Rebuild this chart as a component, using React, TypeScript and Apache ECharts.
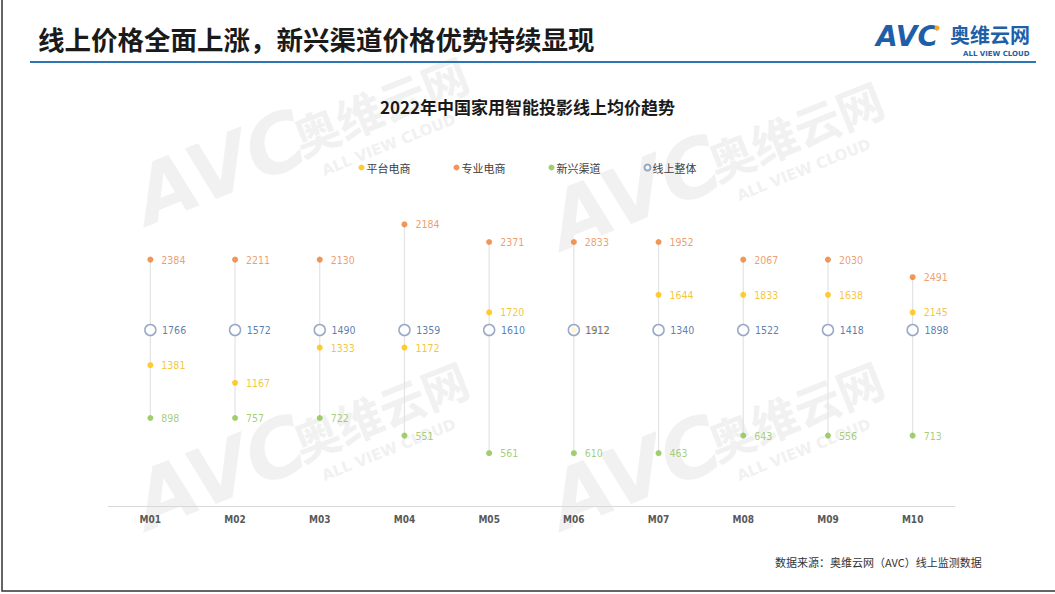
import React, { useEffect, useRef } from "react";
import * as echarts from "echarts";

const months = ["M01", "M02", "M03", "M04", "M05", "M06", "M07", "M08", "M09", "M10"];
const platform = [1381, 1167, 1333, 1172, 1720, 1912, 1644, 1833, 1638, 2145];
const professional = [2384, 2211, 2130, 2184, 2371, 2833, 1952, 2067, 2030, 2491];
const emerging = [898, 757, 722, 551, 561, 610, 463, 643, 556, 713];
const overall = [1766, 1572, 1490, 1359, 1610, 1912, 1340, 1522, 1418, 1898];

const seriesNames = ["平台电商", "专业电商", "新兴渠道", "线上整体"];

// vertical position = price relative to the overall online price, in steps of 0.1 (halves round up)
const rel = (v: number, i: number) => Math.round((v / overall[i]) * 10 + 0.001) / 10;
const toData = (arr: number[]) => arr.map((v, i) => [i, rel(v, i), v]);

function watermark(x: number, y: number) {
  const c = "#f1f1f1";
  return {
    type: "group",
    x,
    y,
    rotation: 0.38,
    silent: true,
    z: -10,
    children: [
      { type: "text", x: 0, y: -72, style: { text: "AVC", fill: c, font: "italic bold 80px 'DejaVu Sans'" } },
      { type: "text", x: 168, y: -54, style: { text: "奥维云网", fill: c, font: "bold 46px 'Noto Sans CJK SC'" } },
      { type: "text", x: 182, y: 2, style: { text: "ALL VIEW CLOUD", fill: c, font: "bold 15px 'DejaVu Sans'" } },
    ],
  };
}

export default function App() {
  const ref = useRef<HTMLDivElement>(null);
  useEffect(() => {
    if (!ref.current) return;
    const chart = echarts.init(ref.current, null, { renderer: "svg" });
    const labelFont = { fontSize: 10.5, fontFamily: "'Liberation Sans Narrow', 'DejaVu Sans Condensed', sans-serif" };
    const mk = (name: string, arr: number[], color: string, labelColor: string) => ({
      name,
      type: "scatter",
      data: toData(arr),
      symbol: "circle",
      symbolSize: 6,
      itemStyle: { color },
      z: 3,
      label: {
        show: true,
        position: "right",
        distance: 8,
        color: labelColor,
        ...labelFont,
        formatter: (p: any) => String(p.value[2]),
      },
    });
    const rangeData = months.map((_, i) => {
      const vals = [rel(platform[i], i), rel(professional[i], i), rel(emerging[i], i), 1];
      return [i, Math.max(...vals), Math.min(...vals)];
    });
    chart.setOption({
      animation: false,
      backgroundColor: "#ffffff",
      title: {
        text: "2022年中国家用智能投影线上均价趋势",
        left: "center",
        top: 93,
        textStyle: { fontSize: 17, fontWeight: "bold", color: "#1a1a1a", fontFamily: "'Noto Sans CJK SC'" },
      },
      legend: {
        top: 157,
        left: "center",
        itemWidth: 6,
        itemHeight: 6,
        itemGap: 43,
        data: seriesNames.map((n) => ({ name: n, icon: "circle" })),
        textStyle: { fontSize: 11, color: "#404040", fontFamily: "'Noto Sans CJK SC'", padding: [0, 0, 0, -3] },
      },
      grid: { left: 108, right: 100, top: 154, bottom: 88 },
      xAxis: {
        type: "category",
        data: months,
        boundaryGap: true,
        axisLine: { lineStyle: { color: "#d9d9d9" } },
        axisTick: { show: false },
        axisLabel: { color: "#595959", fontSize: 10, fontWeight: "bold", margin: 8, fontFamily: "'Liberation Sans Narrow', 'DejaVu Sans Condensed', sans-serif" },
      },
      yAxis: { type: "value", min: 0, max: 2, show: false, splitLine: { show: false } },
      graphic: [
        watermark(150, 230),
        watermark(565, 255),
        watermark(150, 535),
        watermark(565, 535),
        {
          type: "text",
          x: 38,
          y: 25,
          style: { text: "线上价格全面上涨，新兴渠道价格优势持续显现", fill: "#1a1a1a", font: "bold 26.5px 'Noto Sans CJK SC'" },
        },
        { type: "line", shape: { x1: 30, y1: 62, x2: 1036, y2: 62 }, style: { stroke: "#2E75B6", lineWidth: 2 } },
        { type: "text", x: 876, y: 22, style: { text: "AVC", fill: "#1F5FA8", font: "italic bold 28px 'DejaVu Sans'" } },
        { type: "circle", shape: { cx: 937, cy: 28, r: 2.5 }, style: { fill: "#F5A623" } },
        { type: "text", x: 950, y: 24, style: { text: "奥维云网", fill: "#1F5FA8", font: "bold 20px 'Noto Sans CJK SC'" } },
        { type: "text", x: 963, y: 50, style: { text: "ALL VIEW CLOUD", fill: "#1F5FA8", font: "bold 7px 'DejaVu Sans'" } },
        {
          type: "text",
          x: 775,
          y: 556,
          style: { text: "数据来源：奥维云网（AVC）线上监测数据", fill: "#333333", font: "11px 'Noto Sans CJK SC'" },
        },
        {
          type: "rect",
          shape: { x: 2, y: -5, width: 1070, height: 596 },
          style: { fill: "none", stroke: "#333333", lineWidth: 1.5 },
          silent: true,
        },
      ],
      series: [
        {
          name: "range",
          type: "custom",
          data: rangeData,
          z: 1,
          silent: true,
          renderItem: (params: any, api: any) => {
            const top = api.coord([api.value(0), api.value(1)]);
            const bot = api.coord([api.value(0), api.value(2)]);
            return {
              type: "line",
              shape: { x1: top[0], y1: top[1], x2: bot[0], y2: bot[1] },
              style: { stroke: "#e3e3e3", lineWidth: 1.2 },
            };
          },
        },
        mk("平台电商", platform, "#FFC000", "#F2B705"),
        mk("专业电商", professional, "#ED7D31", "#E9854A"),
        mk("新兴渠道", emerging, "#8BC34A", "#8FBF5A"),
        {
          name: "线上整体",
          type: "scatter",
          data: toData(overall),
          symbol: "circle",
          symbolSize: 11,
          z: 4,
          itemStyle: { color: "#ffffff", borderColor: "#7F95B8", borderWidth: 1.5 },
          label: {
            show: true,
            position: "right",
            distance: 5.5,
            color: "#2E5E9A",
            ...labelFont,
            formatter: (p: any) => String(p.value[2]),
          },
        },
      ],
    });
    return () => chart.dispose();
  }, []);
  return <div ref={ref} style={{ position: "fixed", left: 0, top: 0, width: 1055, height: 594 }} />;
}
